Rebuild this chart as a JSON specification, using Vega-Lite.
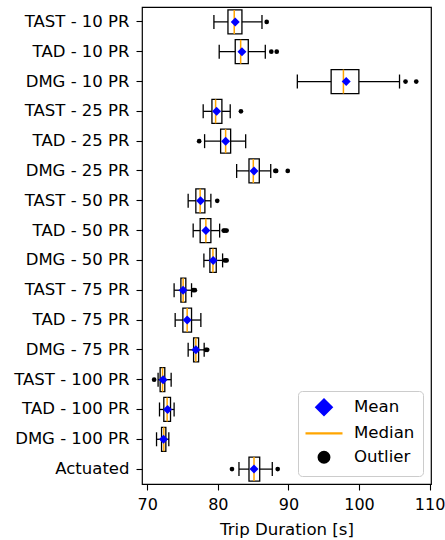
{
  "$schema": "https://vega.github.io/schema/vega-lite/v6.json",
  "autosize": {"type": "none"},
  "padding": {"left": 142, "top": 7, "right": 14, "bottom": 56},
  "width": 289,
  "height": 477,
  "config": {
    "font": "DejaVu Sans",
    "view": {"stroke": "black", "strokeWidth": 1.2},
    "axis": {"labelFontSize": 16, "labelColor": "black", "tickColor": "black", "tickSize": 6, "tickWidth": 1.1, "domain": false, "grid": false, "titleFontSize": 16.6, "titleFontWeight": "normal", "titleColor": "black", "labelFont": "DejaVu Sans", "titleFont": "DejaVu Sans"}
  },
  "datasets": {
    "boxes": [
      {"cat": "TAST - 10 PR", "lo": 79.44, "q1": 81.43, "med": 82.32, "q3": 83.41, "hi": 86.25, "mean": 82.46},
      {"cat": "TAD - 10 PR", "lo": 80.19, "q1": 82.46, "med": 83.23, "q3": 84.31, "hi": 86.72, "mean": 83.41},
      {"cat": "DMG - 10 PR", "lo": 91.26, "q1": 96.05, "med": 97.79, "q3": 99.98, "hi": 105.74, "mean": 98.18},
      {"cat": "TAST - 25 PR", "lo": 77.92, "q1": 79.16, "med": 79.68, "q3": 80.57, "hi": 81.75, "mean": 79.82},
      {"cat": "TAD - 25 PR", "lo": 78.12, "q1": 80.39, "med": 81.1, "q3": 81.81, "hi": 83.94, "mean": 81.1},
      {"cat": "DMG - 25 PR", "lo": 82.66, "q1": 84.41, "med": 85.02, "q3": 85.87, "hi": 87.49, "mean": 85.12},
      {"cat": "TAST - 50 PR", "lo": 75.79, "q1": 76.88, "med": 77.49, "q3": 78.16, "hi": 79.01, "mean": 77.55},
      {"cat": "TAD - 50 PR", "lo": 76.5, "q1": 77.49, "med": 78.3, "q3": 79.01, "hi": 80.25, "mean": 78.3},
      {"cat": "DMG - 50 PR", "lo": 78.02, "q1": 78.87, "med": 79.3, "q3": 79.77, "hi": 80.67, "mean": 79.34},
      {"cat": "TAST - 75 PR", "lo": 73.8, "q1": 74.76, "med": 75.08, "q3": 75.46, "hi": 76.27, "mean": 75.08},
      {"cat": "TAD - 75 PR", "lo": 73.95, "q1": 75.04, "med": 75.65, "q3": 76.27, "hi": 77.59, "mean": 75.65},
      {"cat": "DMG - 75 PR", "lo": 75.79, "q1": 76.56, "med": 76.88, "q3": 77.27, "hi": 78.06, "mean": 76.88},
      {"cat": "TAST - 100 PR", "lo": 71.53, "q1": 71.82, "med": 72.16, "q3": 72.48, "hi": 73.38, "mean": 72.24},
      {"cat": "TAD - 100 PR", "lo": 71.73, "q1": 72.34, "med": 72.81, "q3": 73.29, "hi": 73.8, "mean": 72.87},
      {"cat": "DMG - 100 PR", "lo": 71.31, "q1": 72.02, "med": 72.34, "q3": 72.63, "hi": 73.05, "mean": 72.3},
      {"cat": "Actuated", "lo": 82.99, "q1": 84.41, "med": 85.12, "q3": 85.93, "hi": 87.71, "mean": 85.12}
    ],
    "outliers": [
      {"cat": "TAST - 10 PR", "v": 86.92},
      {"cat": "TAD - 10 PR", "v": 87.57},
      {"cat": "TAD - 10 PR", "v": 88.34},
      {"cat": "DMG - 10 PR", "v": 106.59},
      {"cat": "DMG - 10 PR", "v": 108.11},
      {"cat": "TAST - 25 PR", "v": 83.27},
      {"cat": "TAD - 25 PR", "v": 77.35},
      {"cat": "DMG - 25 PR", "v": 88.14},
      {"cat": "DMG - 25 PR", "v": 88.26},
      {"cat": "DMG - 25 PR", "v": 89.9},
      {"cat": "TAST - 50 PR", "v": 79.91},
      {"cat": "TAD - 50 PR", "v": 80.82},
      {"cat": "TAD - 50 PR", "v": 81.0},
      {"cat": "TAD - 50 PR", "v": 81.24},
      {"cat": "DMG - 50 PR", "v": 81.0},
      {"cat": "DMG - 50 PR", "v": 81.24},
      {"cat": "TAST - 75 PR", "v": 76.5},
      {"cat": "TAST - 75 PR", "v": 76.74},
      {"cat": "DMG - 75 PR", "v": 78.3},
      {"cat": "DMG - 75 PR", "v": 78.49},
      {"cat": "TAST - 100 PR", "v": 70.97},
      {"cat": "Actuated", "v": 82.0},
      {"cat": "Actuated", "v": 88.48}
    ]
  },
  "encoding": {
    "y": {
      "field": "cat", "type": "nominal", "title": null,
      "sort": ["TAST - 10 PR", "TAD - 10 PR", "DMG - 10 PR", "TAST - 25 PR", "TAD - 25 PR", "DMG - 25 PR", "TAST - 50 PR", "TAD - 50 PR", "DMG - 50 PR", "TAST - 75 PR", "TAD - 75 PR", "DMG - 75 PR", "TAST - 100 PR", "TAD - 100 PR", "DMG - 100 PR", "Actuated"],
      "scale": {"paddingInner": 0, "paddingOuter": 0},
      "axis": {"labelPadding": 7, "labelFontSize": 16.5}
    }
  },
  "layer": [
    {
      "data": {"name": "boxes"},
      "mark": {"type": "rule", "color": "black", "strokeWidth": 1.3},
      "encoding": {
        "x": {"field": "lo", "type": "quantitative", "title": "Trip Duration [s]",
              "scale": {"domain": [69.25, 110.2], "nice": false, "zero": false},
              "axis": {"values": [70, 80, 90, 100, 110], "titlePadding": 9, "labelPadding": 6}},
        "x2": {"field": "hi"}
      }
    },
    {
      "data": {"name": "boxes"},
      "mark": {"type": "bar", "fill": "white", "stroke": "black", "strokeWidth": 1.3, "size": 24},
      "encoding": {
        "x": {"field": "q1", "type": "quantitative"},
        "x2": {"field": "q3"}
      }
    },
    {
      "data": {"name": "boxes"},
      "mark": {"type": "tick", "color": "black", "size": 14, "thickness": 1.3, "opacity": 1},
      "encoding": {"x": {"field": "lo", "type": "quantitative"}}
    },
    {
      "data": {"name": "boxes"},
      "mark": {"type": "tick", "color": "black", "size": 14, "thickness": 1.3, "opacity": 1},
      "encoding": {"x": {"field": "hi", "type": "quantitative"}}
    },
    {
      "data": {"name": "boxes"},
      "mark": {"type": "tick", "size": 24, "thickness": 1.5, "opacity": 1},
      "encoding": {
        "x": {"field": "med", "type": "quantitative"},
        "color": {"datum": "Median"}
      }
    },
    {
      "data": {"name": "outliers"},
      "mark": {"type": "point", "filled": true, "size": 22, "opacity": 1},
      "encoding": {
        "x": {"field": "v", "type": "quantitative"},
        "color": {"datum": "Outlier"},
        "shape": {"datum": "Outlier"}
      }
    },
    {
      "data": {"name": "boxes"},
      "mark": {"type": "point", "filled": true, "size": 81, "opacity": 1},
      "encoding": {
        "x": {"field": "mean", "type": "quantitative"},
        "color": {"datum": "Mean", "type": "nominal",
                  "scale": {"domain": ["Mean", "Median", "Outlier"], "range": ["#0000ff", "#ffa500", "#000000"]},
                  "legend": {"title": null, "orient": "bottom-right", "offset": 8.5, "padding": 8, "labelFontSize": 16.6, "labelColor": "black", "labelFont": "DejaVu Sans", "symbolSize": 1296, "labelOffset": 8, "rowPadding": 5, "strokeColor": "#cccccc", "fillColor": "white", "cornerRadius": 4, "symbolOpacity": 1,
                    "encode": {
                      "symbols": {"update": {"x": {"value": 18}, "stroke": {"scale": "color", "field": "value"}, "strokeWidth": {"value": 2.2}, "size": {"signal": "datum.value === 'Median' ? 1369 : datum.value === 'Mean' ? 240 : 115"}}},
                      "labels": {"update": {"x": {"value": 48}}}
                    }}},
        "shape": {"datum": "Mean", "type": "nominal",
                  "scale": {"domain": ["Mean", "Median", "Outlier"], "range": ["diamond", "stroke", "circle"]}}
      }
    }
  ]
}
